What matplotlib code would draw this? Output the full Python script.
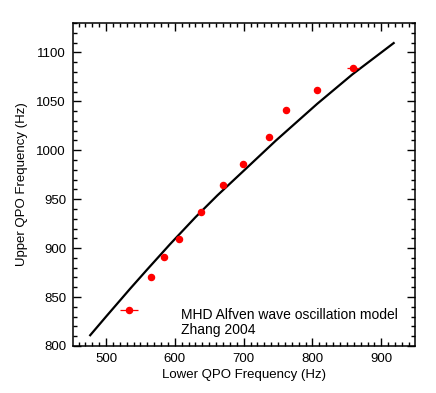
import matplotlib.pyplot as plt
from matplotlib.ticker import MultipleLocator

# observed kHz QPO pairs (Hz)
lower_qpo = [534, 565, 584, 606, 638, 670, 699, 737, 762, 806, 859]
upper_qpo = [837, 870, 891, 909, 937, 964, 986, 1014, 1041, 1062, 1084]
lower_err = [13, 0, 0, 0, 0, 0, 0, 0, 0, 0, 9]

# model curve
model_lower = [477, 500, 535, 560, 593, 630, 662, 700, 747, 807, 858, 918]
model_upper = [811, 830, 858.5, 878.3, 904, 931.6, 954, 979, 1010, 1047.5, 1077.5, 1109.5]

plt.rcParams['font.family'] = ['Liberation Sans', 'DejaVu Sans']

fig = plt.figure(figsize=(4.36, 3.93), dpi=100)
ax = fig.add_axes([73 / 436, 1 - 346 / 393, 342 / 436, 323 / 393])

ax.plot(model_lower, model_upper, color='black', lw=1.6)
ax.errorbar(lower_qpo, upper_qpo, xerr=lower_err, fmt='o', color='red',
            ms=4.4, elinewidth=0.9, capsize=0, mec='red', mfc='red')

ax.set_xlim(452, 949)
ax.set_ylim(800, 1130)
ax.xaxis.set_major_locator(MultipleLocator(100))
ax.xaxis.set_minor_locator(MultipleLocator(10))
ax.yaxis.set_major_locator(MultipleLocator(50))
ax.yaxis.set_minor_locator(MultipleLocator(10))
ax.tick_params(which='both', direction='in', top=True, right=True,
               labelsize=9.5, width=1, pad=5)
ax.tick_params(which='major', length=6)
ax.tick_params(which='minor', length=3)
for s in ax.spines.values():
    s.set_linewidth(1.1)

ax.set_xlabel('Lower QPO Frequency (Hz)', fontsize=9.5, labelpad=3)
ax.set_ylabel('Upper QPO Frequency (Hz)', fontsize=9.5, labelpad=6)

ax.text(0.316, 0.096, 'MHD Alfven wave oscillation model', transform=ax.transAxes,
        fontsize=10, va='center', ha='left')
ax.text(0.316, 0.049, 'Zhang 2004', transform=ax.transAxes,
        fontsize=10, va='center', ha='left')

fig.savefig('out.png', dpi=100)
